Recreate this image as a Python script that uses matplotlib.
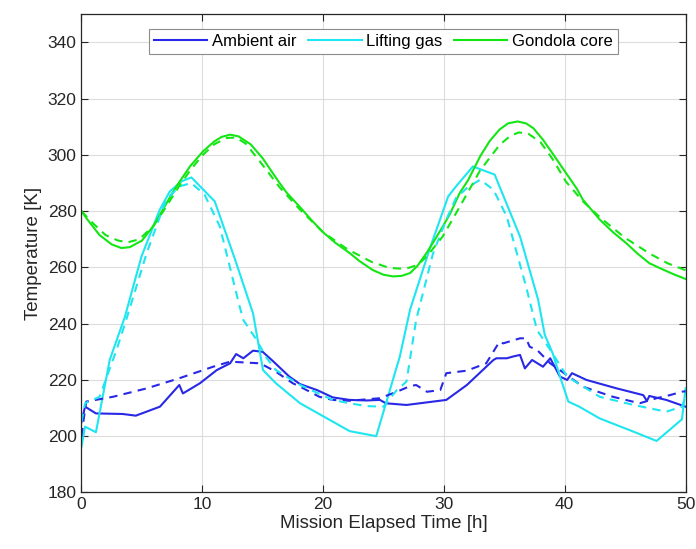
import matplotlib
matplotlib.use('Agg')
import matplotlib.pyplot as plt
import numpy as np

plt.rcParams['font.family'] = ['Liberation Sans', 'DejaVu Sans']

# ambient air, measured (solid) and simulated (dashed)
air_t = [0, 0.3, 1.2, 3.4, 4.5, 6.5, 7.0, 8.1, 8.4, 9.8, 11.2, 12.3, 12.8, 13.4, 14.2, 15.0,
         15.9, 17.2, 18.1, 19.5, 20.8, 22.2, 23.6, 24.7, 25.2, 26.9, 29.1, 30.2, 31.9, 34.1,
         34.35, 35.2, 35.7, 36.3, 36.7, 37.3, 38.2, 38.8, 39.6, 40.2, 40.6, 41.8, 44.3, 46.5,
         46.8, 47.0, 48.4, 50]
air_T = [205, 210.5, 208.1, 207.9, 207.3, 210.5, 212.9, 218.2, 215.2, 218.8, 223.5, 225.9,
         229.2, 227.7, 230.4, 230.0, 226.5, 221.2, 218.5, 216.4, 213.8, 212.9, 212.7, 212.9,
         211.7, 211.1, 212.3, 212.9, 218.2, 227.1, 227.7, 227.7, 228.3, 228.9, 224.1, 227.1,
         224.7, 227.7, 221.2, 220.0, 222.4, 220.0, 217.0, 214.6, 212.5, 214.3, 212.9, 210.5]
air_sim_t = [0, 0.1, 0.4, 2.6, 5.4, 8.1, 10.9, 12.3, 14.8, 16.1, 17.5, 18.1, 19.7, 20.8, 22.2,
             24.7, 26.1, 27.2, 27.7, 28.6, 29.7, 30.2, 31.9, 33.5, 34.6, 34.9, 36.3, 36.8, 37.1,
             37.7, 38.8, 39.6, 41.5, 44.0, 46.2, 47.6, 48.7, 49.7, 50]
air_sim_T = [200, 203.4, 212.3, 214.0, 217.0, 220.6, 224.7, 226.5, 225.9, 222.9, 218.8, 217.6,
             214.0, 212.9, 212.6, 213.5, 215.8, 217.8, 218.2, 215.8, 216.4, 222.4, 223.3,
             225.9, 233.6, 233.0, 234.8, 234.8, 231.8, 230.7, 225.9, 223.5, 217.6, 214.0,
             211.7, 213.5, 214.6, 215.8, 216]

# lifting gas
gas_t = [0, 0.3, 1.2, 2.34, 3.6, 4.97, 6.48, 7.31, 8.28, 9.1, 11.03, 12.7, 14.2, 15.03, 16.1,
         18.1, 22.2, 24.4, 26.35, 27.2, 28.8, 30.35, 31.0, 32.4, 34.2, 36.3, 37.8, 38.35, 39.0,
         39.7, 40.3, 41.2, 42.9, 45.7, 47.6, 49.7, 50]
gas_T = [196.2, 203.4, 201.4, 227.1, 242.5, 263.9, 280.5, 287.0, 290.6, 292.0, 283.5, 263.0,
         243.7, 223.5, 218.8, 211.7, 201.8, 200.0, 228.3, 245.0, 266.3, 285.2, 288.8, 295.9,
         293.0, 271.0, 248.5, 236.0, 229.5, 220.0, 212.3, 210.5, 206.3, 201.6, 198.3, 206.0,
         217.0]
gas_sim_t = [0, 0.3, 1.5, 2.9, 3.7, 5.4, 7.0, 8.1, 9.1, 10.2, 11.45, 13.1, 13.4, 14.5, 15.3,
             16.1, 18.1, 20.8, 22.2, 23.6, 25.0, 26.1, 26.9, 27.7, 29.1, 30.2, 31.0, 31.9, 33.0,
             34.1, 35.2, 36.8, 37.7, 38.8, 40.2, 42.9, 45.7, 48.4, 49.7, 50]
gas_sim_T = [205, 211.7, 214.0, 230.6, 241.3, 265.1, 284.0, 288.8, 290.0, 285.8, 274.6, 246.0,
             241.3, 234.2, 228.0, 223.5, 218.2, 212.9, 211.7, 210.7, 210.5, 216.4, 219.4, 241.3,
             265.0, 277.0, 284.7, 288.2, 291.2, 287.6, 278.1, 253.2, 237.8, 230.7, 221.2, 214.0,
             211.1, 208.7, 210.5, 214]

# gondola core
core_t = [0, 0.5, 1.5, 2.5, 3.3, 4.0, 5.0, 6.0, 7.0, 7.5, 8.14, 9.0, 10.07, 11.0, 11.6, 12.3,
          13.0, 14.0, 15.0, 16.4, 17.0, 18.1, 19.0, 20.0, 21.0, 22.2, 23.0, 24.1, 25.0, 25.8,
          26.5, 27.2, 27.8, 28.56, 29.2, 29.9, 30.5, 31.3, 32.0, 33.0, 33.8, 34.6, 35.3, 36.1,
          36.8, 37.4, 38.2, 39.0, 40.1, 41.0, 41.5, 42.9, 44.0, 45.1, 46.0, 47.0, 48.0, 49.0, 50]
core_T = [280, 277.0, 271.5, 268.2, 266.9, 267.2, 269.5, 275.0, 282.5, 286.3, 290.6, 296.0,
          301.3, 304.8, 306.4, 307.2, 306.6, 303.8, 298.8, 290.0, 286.5, 281.4, 277.0, 272.5,
          268.8, 265.1, 262.3, 259.1, 257.4, 256.8, 257.0, 258.0, 260.5, 265.1, 269.5, 274.5,
          279.0, 286.4, 291.0, 299.5, 305.0, 309.0, 311.2, 311.9, 311.2, 309.5, 305.4, 300.5,
          293.6, 288.0, 284.1, 277.0, 272.5, 268.6, 265.0, 261.5, 259.5, 257.6, 255.9]
core_sim_t = [0, 1.0, 2.0, 3.0, 3.8, 4.8, 6.0, 7.0, 8.1, 9.0, 10.0, 11.0, 12.0, 12.8, 13.6,
              14.8, 16.4, 18.1, 20.0, 22.0, 24.0, 25.5, 26.8, 27.8, 28.6, 29.9, 31.3, 33.0,
              34.6, 35.5, 36.2, 37.0, 38.0, 39.0, 40.1, 41.5, 43.0, 45.0, 47.0, 48.5, 50]
core_sim_T = [280, 275.5, 271.5, 269.6, 268.9, 270.0, 275.0, 281.5, 289.0, 294.5, 299.8, 303.8,
              306.0, 306.2, 304.0, 297.5, 288.5, 280.5, 272.5, 266.5, 262.0, 259.8, 259.5,
              260.8, 264.0, 271.0, 281.5, 294.5, 303.5, 306.8, 308.0, 307.5, 304.5, 298.5,
              290.5, 283.5, 277.5, 270.5, 265.0, 261.5, 259.0]

c_air = '#2828e6'
c_gas = '#1ee6f0'
c_core = '#14e614'
lw = 1.5
dash = (0, (4, 3))

fig = plt.figure(figsize=(6.96, 5.49), dpi=100)
ax = fig.add_axes([0.117, 0.103, 0.868, 0.871])

ax.plot(air_t, air_T, color=c_air, lw=lw, label='Ambient air')
ax.plot(gas_t, gas_T, color=c_gas, lw=lw, label='Lifting gas')
ax.plot(core_t, core_T, color=c_core, lw=lw, label='Gondola core')
ax.plot(air_sim_t, air_sim_T, color=c_air, lw=lw, ls=dash)
ax.plot(gas_sim_t, gas_sim_T, color=c_gas, lw=lw, ls=dash)
ax.plot(core_sim_t, core_sim_T, color=c_core, lw=lw, ls=dash)

ax.set_xlim(0, 50)
ax.set_ylim(180, 350)
ax.set_xticks(np.arange(0, 51, 10))
ax.set_yticks(np.arange(180, 341, 20))
ax.grid(True, color='#dcdcdc', lw=0.8)
ax.set_axisbelow(True)
ax.tick_params(direction='in', top=True, right=True, labelsize=12.5, colors='#262626',
               length=5, width=0.8)
for s in ax.spines.values():
    s.set_color('#262626')
    s.set_linewidth(0.9)

ax.set_xlabel('Mission Elapsed Time [h]', fontsize=13.5, color='#262626', labelpad=2)
ax.set_ylabel('Temperature [K]', fontsize=13.5, color='#262626', labelpad=4)

leg = ax.legend(loc='upper center', ncol=3, fontsize=12, fancybox=False, framealpha=1,
                edgecolor='#8c8c8c', handlelength=3.2, columnspacing=0.7,
                handletextpad=0.28, borderpad=0.3, borderaxespad=0,
                bbox_to_anchor=(0.5, 0.969))
leg.get_frame().set_linewidth(0.8)

fig.savefig('out.png', dpi=100)
